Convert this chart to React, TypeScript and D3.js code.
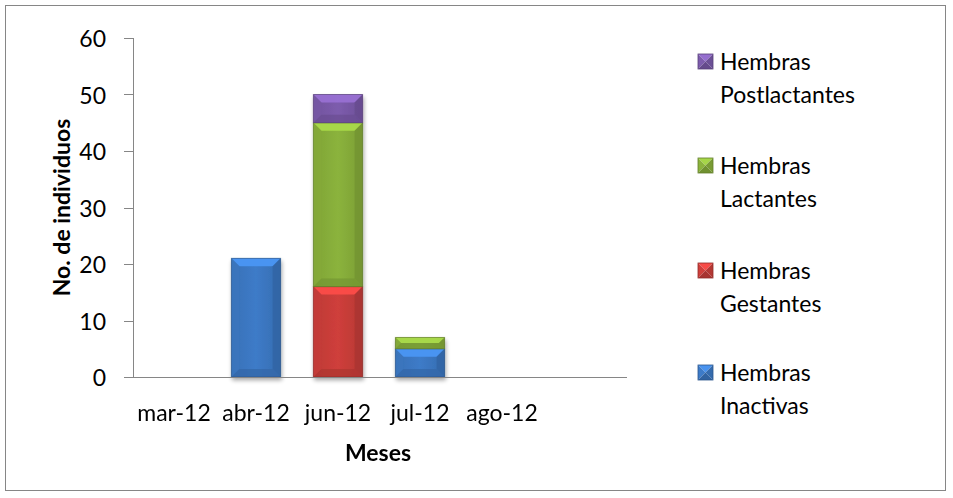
import React from "react";
import * as d3 from "d3";

const months = ["mar-12", "abr-12", "jun-12", "jul-12", "ago-12", ""];
const inactivas = [0, 21, 0, 5, 0, 0];
const gestantes = [0, 0, 16, 0, 0, 0];
const lactantes = [0, 0, 29, 2, 0, 0];
const postlactantes = [0, 0, 5, 0, 0, 0];
const yTicks = [0, 10, 20, 30, 40, 50, 60];

const seriesNames = [
  ["Hembras", "Inactivas"],
  ["Hembras", "Gestantes"],
  ["Hembras", "Lactantes"],
  ["Hembras", "Postlactantes"],
];
const seriesValues = [inactivas, gestantes, lactantes, postlactantes];
const seriesColors = ["#3D7BC8", "#CF3F3B", "#8BB33C", "#7D5CAD"];

const W = 953;
const H = 498;
const FONT = "Lato, 'Open Sans', sans-serif";
const FS = 23;

const plot = { left: 133, right: 625, top: 38, bottom: 377 };

function shade(c: string, k: number) {
  const col = d3.color(c)!;
  return k > 0 ? col.brighter(k).formatHex() : col.darker(-k).formatHex();
}

// A bar segment with bevelled edges.
function BevelRect({ x, y, w, h, color, id }: { x: number; y: number; w: number; h: number; color: string; id: string }) {
  if (h <= 0) return null;
  const b = Math.min(8, h / 2, w / 2);
  const x2 = x + w;
  const y2 = y + h;
  return (
    <g>
      <defs>
        <linearGradient id={id} x1="0" y1="0" x2="1" y2="0">
          <stop offset="0" stopColor={shade(color, -0.25)} />
          <stop offset="0.5" stopColor={color} />
          <stop offset="1" stopColor={shade(color, -0.35)} />
        </linearGradient>
      </defs>
      <rect x={x} y={y} width={w} height={h} fill={`url(#${id})`} />
      {/* top bevel */}
      <polygon points={`${x},${y} ${x2},${y} ${x2 - b},${y + b} ${x + b},${y + b}`} fill={shade(color, 0.55)} opacity={0.95} />
      {/* left bevel */}
      <polygon points={`${x},${y} ${x + b},${y + b} ${x + b},${y2 - b} ${x},${y2}`} fill={shade(color, -0.15)} opacity={0.7} />
      {/* right bevel */}
      <polygon points={`${x2},${y} ${x2 - b},${y + b} ${x2 - b},${y2 - b} ${x2},${y2}`} fill={shade(color, -0.6)} opacity={0.7} />
      {/* bottom bevel */}
      <polygon points={`${x},${y2} ${x + b},${y2 - b} ${x2 - b},${y2 - b} ${x2},${y2}`} fill={shade(color, -0.5)} opacity={0.7} />
      <rect x={x} y={y} width={w} height={h} fill="none" stroke={shade(color, -1.2)} strokeWidth={1} opacity={0.6} />
    </g>
  );
}

function LegendMarker({ x, y, s, color }: { x: number; y: number; s: number; color: string }) {
  const cx = x + s / 2;
  const cy = y + s / 2;
  return (
    <g>
      <polygon points={`${x},${y} ${x + s},${y} ${cx},${cy}`} fill={shade(color, 0.5)} />
      <polygon points={`${x},${y} ${cx},${cy} ${x},${y + s}`} fill={shade(color, 0)} />
      <polygon points={`${x + s},${y} ${cx},${cy} ${x + s},${y + s}`} fill={shade(color, -0.4)} />
      <polygon points={`${x},${y + s} ${cx},${cy} ${x + s},${y + s}`} fill={shade(color, -0.6)} />
      <rect x={x} y={y} width={s} height={s} fill="none" stroke={shade(color, -1)} strokeWidth={0.8} />
    </g>
  );
}

export default function App() {
  const x = d3.scaleBand<string>().domain(months.map((m, i) => m + "#" + i)).range([plot.left, plot.right]).paddingInner(0.4).paddingOuter(0.2);
  const y = d3.scaleLinear().domain([0, 60]).range([plot.bottom, plot.top]);

  const stackData = months.map((m, i) => {
    const row: Record<string, number | string> = { key: m + "#" + i };
    seriesValues.forEach((s, k) => (row["s" + k] = s[i]));
    return row;
  });
  const stacked = d3.stack<any>().keys(seriesValues.map((_, k) => "s" + k))(stackData);

  const legendY = [61, 165, 270, 372];

  return (
    <svg width={W} height={H} style={{ position: "absolute", left: 0, top: 0, fontFamily: FONT }}>
      <defs>
        <filter id="shadow" x="-20%" y="-20%" width="140%" height="140%">
          <feGaussianBlur in="SourceAlpha" stdDeviation="2" />
          <feOffset dx="1" dy="3" />
          <feComponentTransfer>
            <feFuncA type="linear" slope="0.35" />
          </feComponentTransfer>
          <feMerge>
            <feMergeNode />
            <feMergeNode in="SourceGraphic" />
          </feMerge>
        </filter>
      </defs>
      <rect x={0} y={0} width={W} height={H} fill="#fff" />
      <rect x={5.5} y={5.5} width={940} height={485} fill="none" stroke="#868686" strokeWidth={1} />

      {/* y axis */}
      <line x1={plot.left + 0.5} x2={plot.left + 0.5} y1={plot.top} y2={plot.bottom} stroke="#868686" />
      {yTicks.map((t) => (
        <g key={t}>
          <line x1={plot.left - 9} x2={plot.left} y1={Math.round(y(t)) + 0.5} y2={Math.round(y(t)) + 0.5} stroke="#868686" />
          <text x={plot.left - 27} y={y(t)} textAnchor="end" dominantBaseline="central" fontSize={FS} fill="#000">
            {t}
          </text>
        </g>
      ))}

      {/* bars */}
      <g filter="url(#shadow)">
        {stacked.map((layer, k) =>
          layer.map((d, i) => {
            const key = stackData[i].key as string;
            const y0 = y(d[0]);
            const y1 = y(d[1]);
            return (
              <BevelRect key={k + "-" + i} id={`g${k}-${i}`} x={x(key)!} y={y1} w={x.bandwidth()} h={y0 - y1} color={seriesColors[k]} />
            );
          })
        )}
      </g>

      {/* x axis */}
      <line x1={plot.left} x2={plot.right + 2} y1={plot.bottom + 0.5} y2={plot.bottom + 0.5} stroke="#868686" />
      {months.map((m, i) => (
        <text key={i} x={x(m + "#" + i)! + x.bandwidth() / 2} y={412} textAnchor="middle" dominantBaseline="central" fontSize={FS} fill="#000">
          {m}
        </text>
      ))}

      <text x={378} y={452} textAnchor="middle" dominantBaseline="central" fontSize={FS} fontWeight="bold" fill="#000">
        Meses
      </text>
      <text transform={`translate(61,${(plot.top + plot.bottom) / 2}) rotate(-90)`} textAnchor="middle" dominantBaseline="central" fontSize={FS} fontWeight="bold" fill="#000">
        No. de individuos
      </text>

      {/* legend, top entry is the last series */}
      {[3, 2, 1, 0].map((k, j) => (
        <g key={k}>
          <LegendMarker x={698} y={legendY[j] - 7} s={15} color={seriesColors[k]} />
          <text x={720} y={legendY[j]} dominantBaseline="central" fontSize={FS} fill="#000">
            {seriesNames[k][0]}
          </text>
          <text x={720} y={legendY[j] + 33} dominantBaseline="central" fontSize={FS} fill="#000">
            {seriesNames[k][1]}
          </text>
        </g>
      ))}
    </svg>
  );
}
